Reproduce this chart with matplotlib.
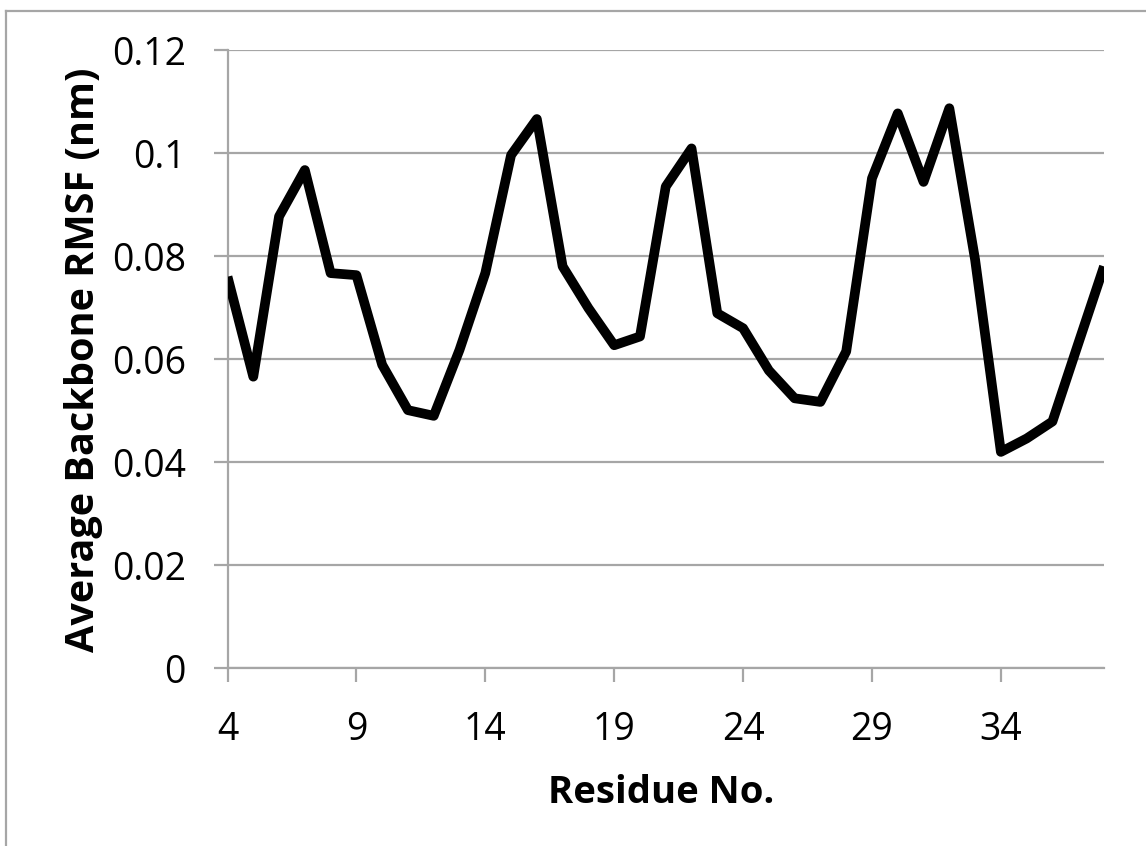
import matplotlib
matplotlib.use("Agg")
import matplotlib.pyplot as plt
from matplotlib.lines import Line2D

# Данные: номер остатка и среднее RMSF
residues = list(range(4, 39))
rmsf = [0.0760, 0.0566, 0.0877, 0.0967, 0.0767, 0.0763, 0.0589, 0.0501, 0.0490,
        0.0618, 0.0767, 0.0996, 0.1066, 0.0780, 0.0699, 0.0627, 0.0644, 0.0935,
        0.1009, 0.0689, 0.0660, 0.0578, 0.0524, 0.0517, 0.0615, 0.0951, 0.1077,
        0.0944, 0.1087, 0.0793, 0.0420, 0.0446, 0.0479, 0.0630, 0.0780]
x_ticks = [4, 9, 14, 19, 24, 29, 34]
y_ticks = [0, 0.02, 0.04, 0.06, 0.08, 0.1, 0.12]
y_ticklabels = ["0", "0.02", "0.04", "0.06", "0.08", "0.1", "0.12"]

plt.rcParams['font.family'] = ['Open Sans', 'DejaVu Sans']
grid_c = '#a6a6a6'

fig = plt.figure(figsize=(11.46, 8.46), dpi=100)
ax = fig.add_axes([227.5 / 1146, 1 - 668.3 / 846, (1104 - 227.5) / 1146, (668.3 - 50) / 846])

ax.plot(residues, rmsf, color='black', linewidth=7, solid_joinstyle='round',
        solid_capstyle='butt', zorder=3)

ax.set_xlim(4, 38)
ax.set_ylim(0, 0.12)
ax.set_xticks(x_ticks)
ax.set_yticks(y_ticks)
ax.set_yticklabels(y_ticklabels)

ax.grid(axis='y', color=grid_c, linewidth=1.6)
ax.set_axisbelow(True)
for side in ['top', 'right']:
    ax.spines[side].set_visible(False)
for side in ['left', 'bottom']:
    ax.spines[side].set_color(grid_c)
    ax.spines[side].set_linewidth(1.6)
ax.tick_params(axis='both', direction='out', length=10, width=1.6, color=grid_c,
               labelsize=27, labelcolor='black')
ax.tick_params(axis='x', pad=21)
ax.tick_params(axis='y', pad=20)

fig.text(661 / 1146, 1 - 803 / 846, 'Residue No.', fontsize=27.5, fontweight='bold',
         ha='center', va='baseline')
fig.text(103 / 1146, 1 - 359.5 / 846, 'Average Backbone RMSF (nm)', fontsize=28.5,
         fontweight='bold', rotation=90, ha='right', va='center')

# рамка области диаграммы (видны только левая и верхняя стороны)
fig.add_artist(Line2D([6 / 1146, 6 / 1146], [0, 1 - 11 / 846], color=grid_c, linewidth=1.6))
fig.add_artist(Line2D([6 / 1146, 1], [1 - 11 / 846, 1 - 11 / 846], color=grid_c, linewidth=1.6))

fig.savefig('out.png', dpi=100)
